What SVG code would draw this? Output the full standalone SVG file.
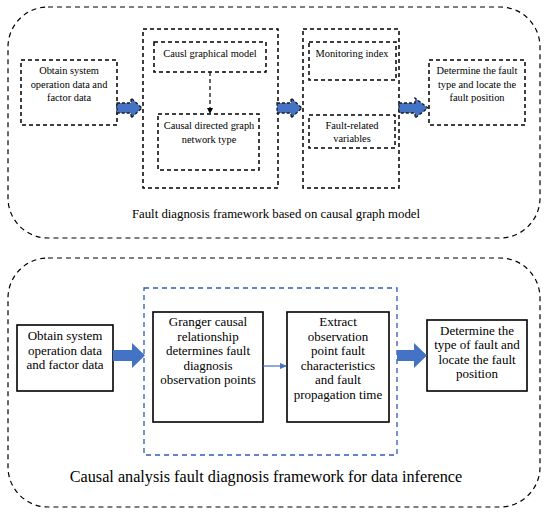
<svg xmlns="http://www.w3.org/2000/svg" width="550" height="513" viewBox="0 0 550 513">
<defs>
<style>
.panel{fill:none;stroke:#000;stroke-width:1.2;stroke-dasharray:5,4}
.db{fill:#fff;stroke:#000;stroke-width:1.5;stroke-dasharray:4,3}
.sb{fill:#fff;stroke:#000;stroke-width:1.6}
.bluebox{fill:none;stroke:#2F5BB7;stroke-width:1.3;stroke-dasharray:5,4}
text{font-family:'Liberation Serif','DejaVu Serif',serif;fill:#000;text-anchor:middle}
.t1{font-size:10.4px}
.t2{font-size:13px}
.cap1{font-size:12.8px}
.cap2{font-size:16.2px}
.fat{fill:#4472C4}
.fatd{fill:#4472C4;stroke:#1a1a1a;stroke-width:1.3;stroke-dasharray:3,2}
</style>
<marker id="sm" markerWidth="6" markerHeight="6" refX="5" refY="3" orient="auto" markerUnits="userSpaceOnUse">
<path d="M0,0 L6,3 L0,6 z" fill="#000"/>
</marker>
<marker id="bm" markerWidth="7" markerHeight="6" refX="6" refY="3" orient="auto" markerUnits="userSpaceOnUse">
<path d="M0,0 L7,3 L0,6 z" fill="#4472C4"/>
</marker>
</defs>

<g id="panel-top">
<rect class="panel" x="8" y="7" width="532" height="231" rx="40" ry="40"/>
<text class="cap1" x="276" y="218">Fault diagnosis framework based on causal graph model</text>
</g>

<g id="top-obtain">
<rect class="db" x="21" y="60" width="96" height="65"/>
<text class="t1" x="69" y="74">Obtain system</text>
<text class="t1" x="69" y="87.5">operation data and</text>
<text class="t1" x="69" y="101">factor data</text>
</g>

<g id="top-group1">
<rect class="db" x="143" y="29" width="135" height="159"/>
</g>
<g id="top-causl">
<rect class="db" x="154" y="42" width="112" height="30"/>
<text class="t1" x="210" y="57">Causl graphical model</text>
</g>
<g id="top-directed">
<rect class="db" x="158" y="114" width="101" height="56"/>
<text class="t1" x="209" y="129">Causal directed graph</text>
<text class="t1" x="209" y="142.5">network type</text>
</g>

<g id="top-group2">
<rect class="db" x="303" y="29" width="96" height="159"/>
</g>
<g id="top-monitor">
<rect class="db" x="309" y="42" width="87" height="38"/>
<text class="t1" x="352" y="57">Monitoring index</text>
</g>
<g id="top-faultvars">
<rect class="db" x="309" y="115" width="86" height="33"/>
<text class="t1" x="352" y="128.5">Fault-related</text>
<text class="t1" x="352" y="142">variables</text>
</g>

<g id="top-determine">
<rect class="db" x="429" y="60" width="96" height="65"/>
<text class="t1" x="477" y="74">Determine the fault</text>
<text class="t1" x="477" y="87.5">type and locate the</text>
<text class="t1" x="477" y="101">fault position</text>
</g>

<g id="panel-bottom">
<rect class="panel" x="8" y="258" width="532" height="249" rx="40" ry="40"/>
<rect class="bluebox" x="144" y="288" width="253" height="167"/>
<text class="cap2" x="266" y="482">Causal analysis fault diagnosis framework for data inference</text>
</g>

<g id="bot-obtain">
<rect class="sb" x="17" y="325" width="96" height="66"/>
<text class="t2" x="65" y="340">Obtain system</text>
<text class="t2" x="65" y="354.5">operation data</text>
<text class="t2" x="65" y="369">and factor data</text>
</g>

<g id="bot-granger">
<rect class="sb" x="153" y="312" width="110" height="110"/>
<text class="t2" x="208" y="326">Granger causal</text>
<text class="t2" x="208" y="340.5">relationship</text>
<text class="t2" x="208" y="355">determines fault</text>
<text class="t2" x="208" y="369.5">diagnosis</text>
<text class="t2" x="208" y="384">observation points</text>
</g>

<g id="bot-extract">
<rect class="sb" x="287" y="312" width="102" height="110"/>
<text class="t2" x="338" y="326">Extract</text>
<text class="t2" x="338" y="340.5">observation</text>
<text class="t2" x="338" y="355">point fault</text>
<text class="t2" x="338" y="369.5">characteristics</text>
<text class="t2" x="338" y="384">and fault</text>
<text class="t2" x="338" y="398.5">propagation time</text>
</g>

<g id="bot-determine">
<rect class="sb" x="427" y="320" width="100" height="71"/>
<text class="t2" x="477" y="334.5">Determine the</text>
<text class="t2" x="477" y="349">type of fault and</text>
<text class="t2" x="477" y="363.5">locate the fault</text>
<text class="t2" x="477" y="378">position</text>
</g>

<g id="connectors">
<line x1="210" y1="72" x2="210" y2="113" stroke="#000" stroke-width="1.2" stroke-dasharray="4,3" marker-end="url(#sm)"/>
<path class="fatd" d="M117,103 L131,103 L131,98 L142,108 L131,118 L131,113 L117,113 z"/>
<path class="fatd" d="M277,103 L291,103 L291,98 L302,108 L291,118 L291,113 L277,113 z"/>
<path class="fatd" d="M399,103 L415,103 L415,98 L428,108 L415,118 L415,113 L399,113 z"/>
<path class="fat" d="M113,350 L132,350 L132,343 L145,355.5 L132,368 L132,361 L113,361 z"/>
<line x1="263" y1="366" x2="286" y2="366" stroke="#4472C4" stroke-width="1.2" marker-end="url(#bm)"/>
<path class="fat" d="M397,350 L414,350 L414,343 L427,355.5 L414,368 L414,361 L397,361 z"/>
</g>
</svg>
